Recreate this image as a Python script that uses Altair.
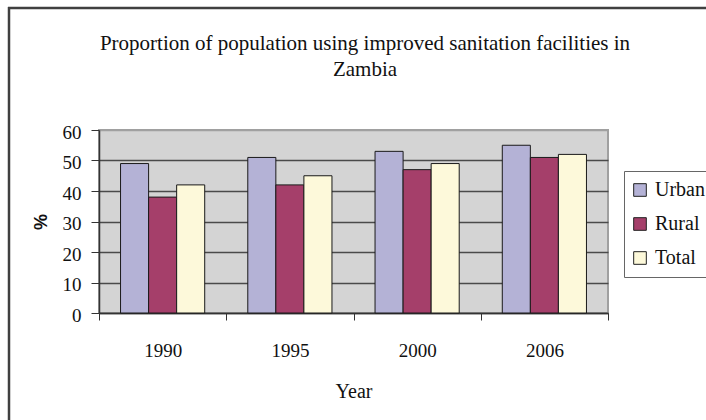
import altair as alt
import pandas as pd

# Sanitation coverage (%) by year and area
years = ["1990", "1995", "2000", "2006"]
series = ["Urban", "Rural", "Total"]
urban = [49, 51, 53, 55]
rural = [38, 42, 47, 51]
total = [42, 45, 49, 52]
y_ticks = [0, 10, 20, 30, 40, 50, 60]
title_lines = [
    "Proportion of population using improved sanitation facilities in",
    "Zambia",
]

colors = ["#b4b2d6", "#a53f6a", "#fdf9da"]

rows = []
for name, vals in zip(series, [urban, rural, total]):
    for yr, v in zip(years, vals):
        rows.append({"Year": yr, "Series": name, "Value": v})
df = pd.DataFrame(rows)

SERIF = "Liberation Serif"

bars = alt.Chart(df).mark_bar(stroke="#1a1a1a", strokeWidth=1).encode(
    x=alt.X(
        "Year:N",
        sort=years,
        scale=alt.Scale(paddingInner=0, paddingOuter=0),
        axis=alt.Axis(
            title="Year",
            labelAngle=0,
            tickBand="extent",
            tickSize=7,
            tickColor="#333333",
            domainColor="#333333",
            domainWidth=1.5,
            labelFont=SERIF,
            labelFontSize=19,
            labelColor="#111111",
            labelBaseline="alphabetic",
            labelPadding=36,
            titleFont=SERIF,
            titleFontSize=20,
            titleFontWeight="normal",
            titleColor="#111111",
            titleBaseline="alphabetic",
            titleX=254.5,
            titleY=84,
        ),
    ),
    xOffset=alt.XOffset(
        "Series:N",
        sort=series,
        scale=alt.Scale(paddingInner=0, paddingOuter=0.768),
    ),
    y=alt.Y(
        "Value:Q",
        scale=alt.Scale(domain=[0, 60]),
        axis=alt.Axis(
            title="%",
            values=y_ticks,
            tickSize=8,
            tickColor="#333333",
            domainColor="#333333",
            domainWidth=1.5,
            grid=True,
            gridColor={
                "condition": {"test": "datum.value === 60", "value": "#a0a0a0"},
                "value": "#4a4a4a",
            },
            gridWidth=1.5,
            labelFont=SERIF,
            labelFontSize=19,
            labelColor="#111111",
            labelPadding=10,
            labelOffset=2,
            titleFont="Liberation Sans",
            titleFontSize=18,
            titleFontWeight="bold",
            titleColor="#111111",
            titleAngle=270,
            titleAlign="center",
            titleBaseline="alphabetic",
            titleX=-53,
            titleY=91.5,
        ),
    ),
    color=alt.Color(
        "Series:N",
        sort=series,
        scale=alt.Scale(domain=series, range=colors),
        legend=alt.Legend(
            title=None,
            orient="none",
            legendX=525,
            legendY=41,
            direction="vertical",
            symbolType="square",
            symbolSize=160,
            symbolOffset=-3,
            symbolStrokeColor="#222222",
            symbolStrokeWidth=1,
            labelFont=SERIF,
            labelFontSize=20,
            labelColor="#111111",
            labelOffset=5,
            rowPadding=14,
            padding=9,
            strokeColor="#666666",
            fillColor="white",
        ),
    ),
)

# Two-line chart title
title_df = pd.DataFrame({"t": ["\n".join(title_lines)]})
title = alt.Chart(title_df).mark_text(
    font=SERIF,
    fontSize=21,
    color="#111111",
    align="center",
    baseline="alphabetic",
    lineBreak="\n",
    lineHeight=26,
).encode(text="t:N", x=alt.value(266), y=alt.value(-80))

# Outer chart frame (top and left edges)
frame_df = pd.DataFrame({"k": [0]})
frame_top = alt.Chart(frame_df).mark_rule(color="#404040", strokeWidth=2.5).encode(
    x=alt.value(-91), x2=alt.value(640), y=alt.value(-122)
)
frame_left = alt.Chart(frame_df).mark_rule(color="#404040", strokeWidth=2.5).encode(
    x=alt.value(-90), y=alt.value(-123), y2=alt.value(320)
)

chart = alt.layer(bars, title, frame_top, frame_left).properties(
    width=509,
    height=183,
    padding={"left": 99, "top": 130, "right": 98, "bottom": 107},
    autosize=alt.AutoSizeParams(type="none"),
    background="white",
).configure_view(
    fill="#d4d4d4",
    stroke="#a0a0a0",
    strokeWidth=2,
)

chart.save("out.html", embed_options={"renderer": "svg", "actions": False})
